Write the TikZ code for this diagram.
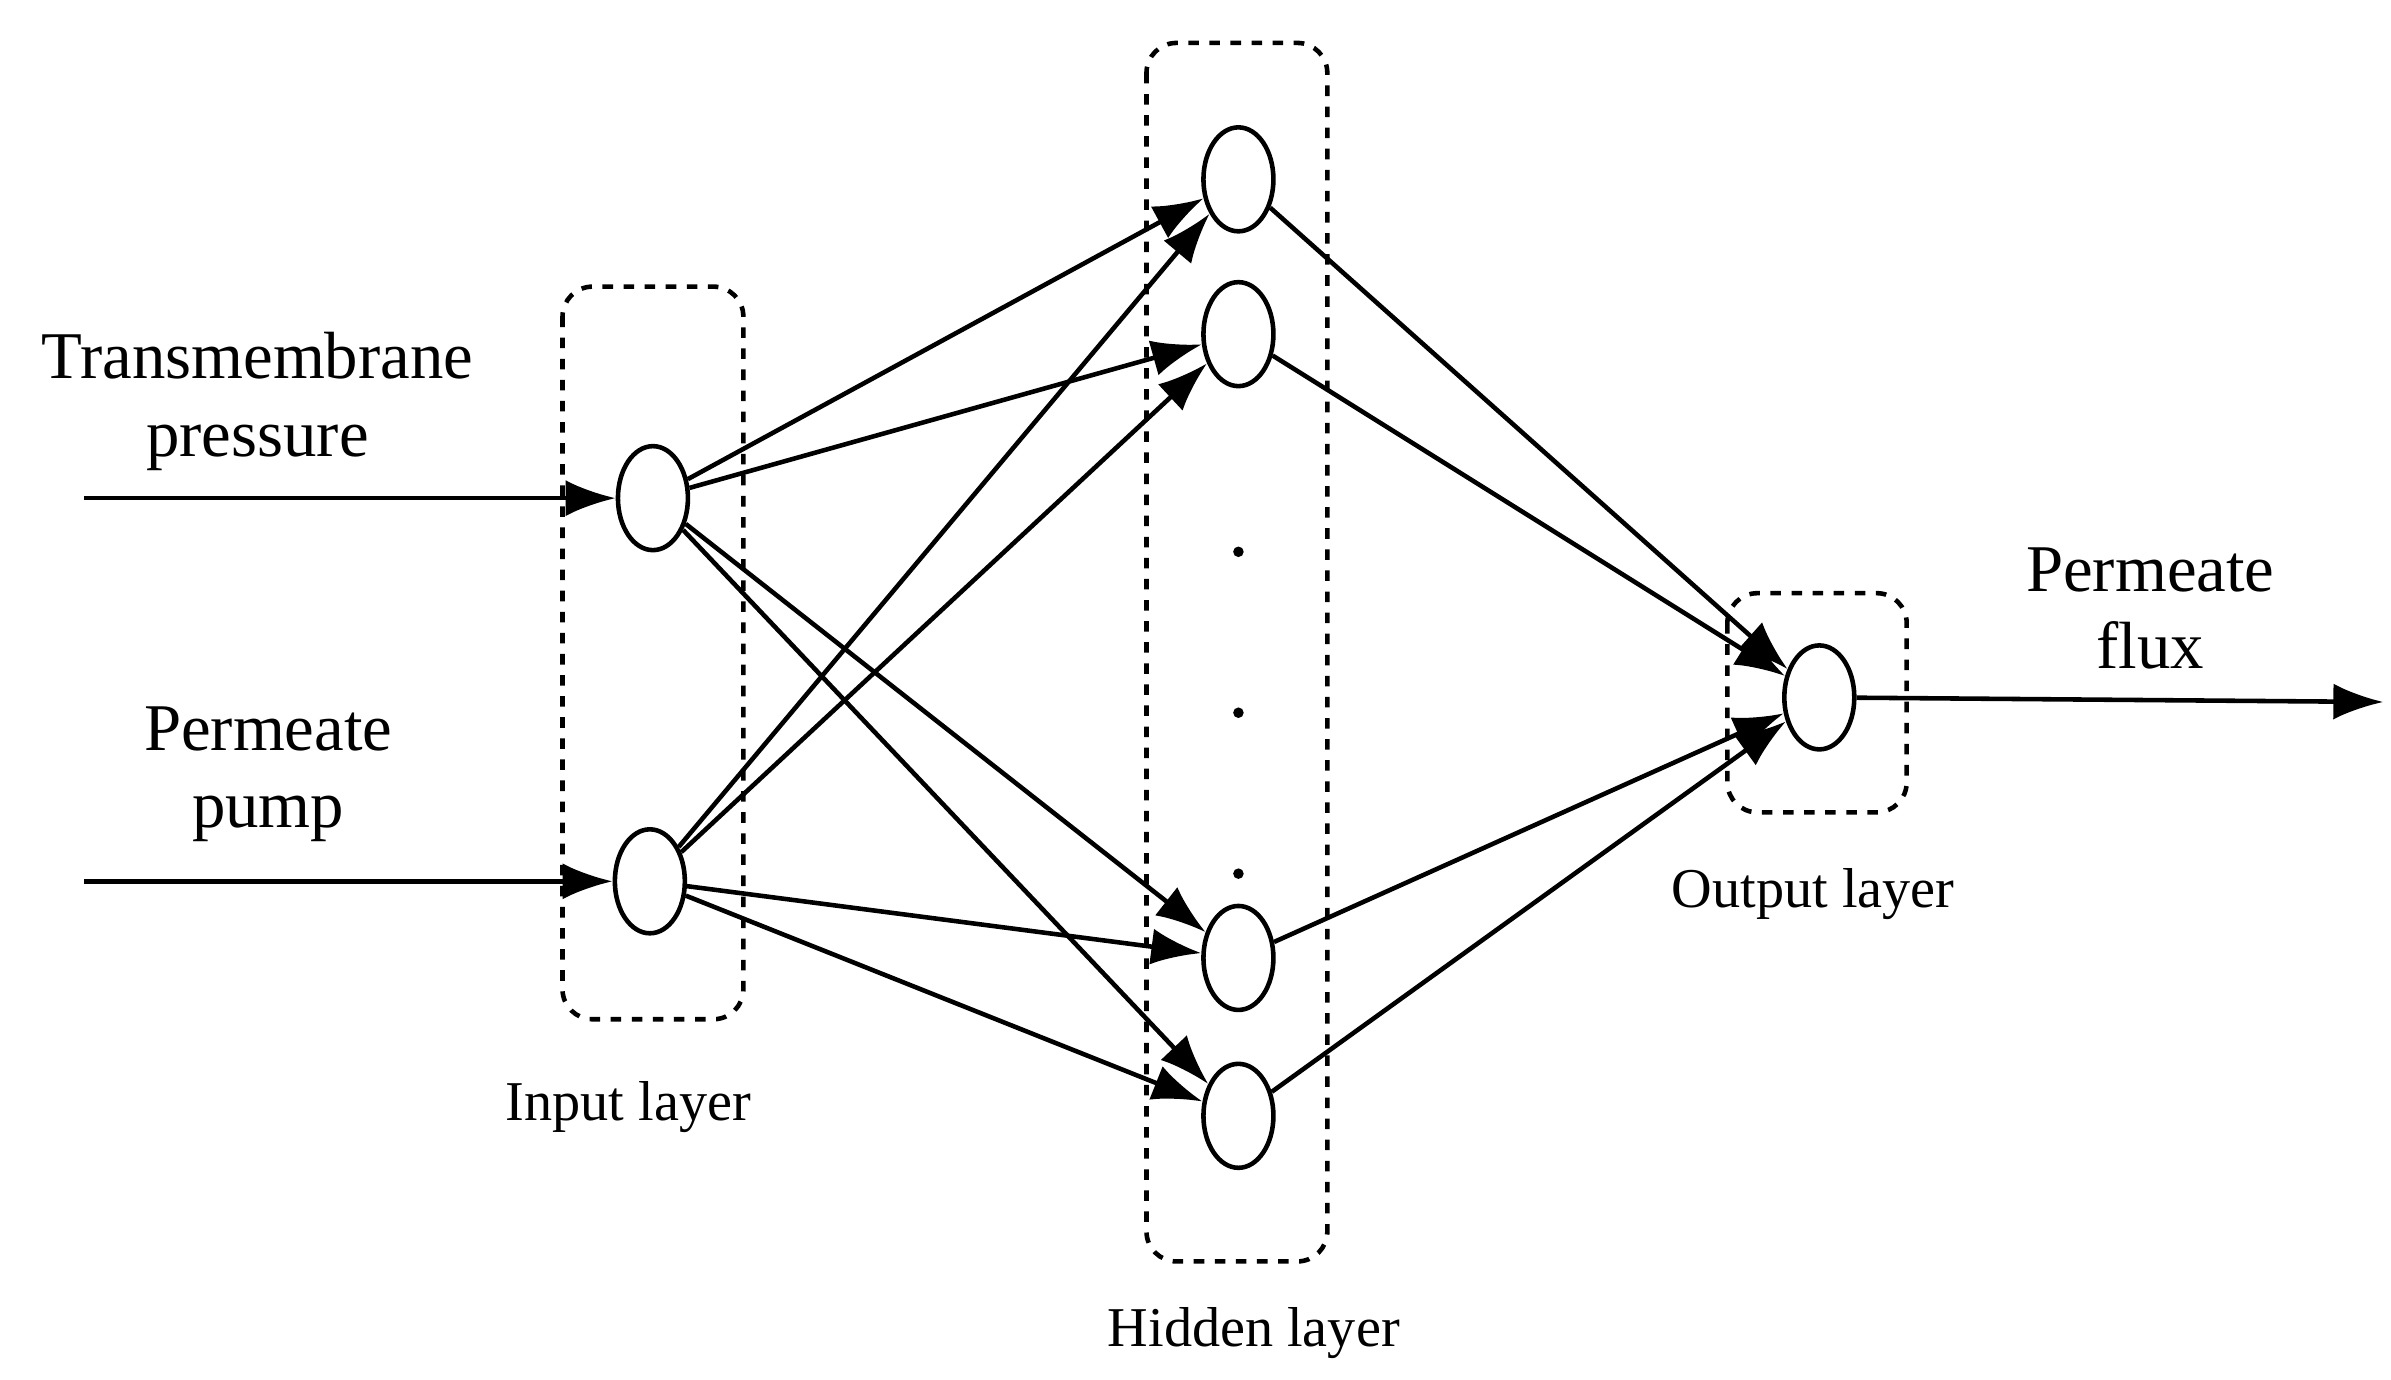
\documentclass[tikz,border=0pt]{standalone}
\usepackage{fontspec}
\setmainfont{Liberation Serif}
\usetikzlibrary{arrows.meta,shapes.geometric}
\tikzset{
  neuron/.style={draw,ellipse,line width=1.3pt,minimum width=0.7cm,minimum height=1.04cm,inner sep=0pt},
  layerbox/.style={draw,dashed,rounded corners=0.3cm,line width=1.3pt},
  link/.style={line width=1.3pt,-{Latex[length=0.5cm,width=0.36cm]}},
  lbl/.style={font=\fontsize{19}{22}\selectfont,align=center},
  laylbl/.style={font=\fontsize{16}{19}\selectfont}
}
\begin{document}
\begin{tikzpicture}[x=1.533cm,y=-1.533cm]
\useasboundingbox (0,0) rectangle (15.6,9.0);
% layer boxes
\draw [layerbox] (3.67,1.87) rectangle (4.85,6.65);
\draw [layerbox] (7.48,0.28) rectangle (8.66,8.23);
\draw [layerbox] (11.27,3.87) rectangle (12.44,5.30);
% neurons
\node [neuron] (i1) at (4.26,3.25) {};
\node [neuron] (i2) at (4.24,5.75) {};
\node [neuron] (h1) at (8.08,1.17) {};
\node [neuron] (h2) at (8.08,2.18) {};
\node [neuron] (h3) at (8.08,6.25) {};
\node [neuron] (h4) at (8.08,7.28) {};
\node [neuron] (o) at (11.87,4.55) {};
% dots
\foreach \y in {3.6,4.65,5.7}
  \fill (8.08,\y) circle (1.5pt);
% inputs
\coordinate (a1) at (0.55,3.25);
\coordinate (a2) at (0.55,5.75);
\coordinate (out) at (15.55,4.58);
\draw [link] (a1) -- (i1);
\draw [link] (a2) -- (i2);
\foreach \i in {i1,i2}
  \foreach \h in {h1,h2,h3,h4}
    \draw [link] (\i) -- (\h);
\foreach \h in {h1,h2,h3,h4}
  \draw [link] (\h) -- (o);
\draw [link] (o) -- (out);
% labels
\node [lbl] (t1) at (1.68,2.62) {Transmembrane\\pressure};
\node [lbl] (t2) at (1.75,5.05) {Permeate\\pump};
\node [lbl] (t3) at (14.03,3.97) {Permeate\\flux};
\node [laylbl] (l1) at (4.10,7.22) {Input layer};
\node [laylbl] (l2) at (8.18,8.70) {Hidden layer};
\node [laylbl] (l3) at (11.83,5.83) {Output layer};
\end{tikzpicture}
\end{document}
